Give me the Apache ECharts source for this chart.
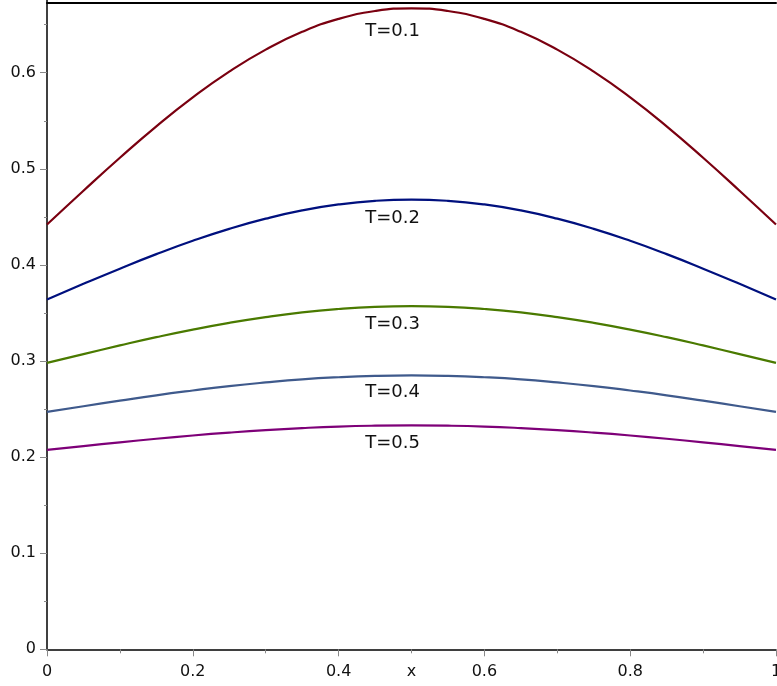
<!DOCTYPE html>
<html>
<head>
<meta charset="utf-8">
<script src="https://cdn.jsdelivr.net/npm/echarts@6/dist/echarts.min.js"></script>
<style>
html,body{margin:0;padding:0;background:#fff;}
#chart{width:777px;height:686px;}
</style>
</head>
<body>
<div id="chart"></div>
<script>
// x positions
var xValues = [0, 0.05, 0.1, 0.15, 0.2, 0.25, 0.3, 0.35, 0.4, 0.45, 0.5,
               0.55, 0.6, 0.65, 0.7, 0.75, 0.8, 0.85, 0.9, 0.95, 1];
// curve values
var seriesT01 = [0.4420, 0.4772, 0.5115, 0.5442, 0.5743, 0.6011, 0.6240, 0.6425, 0.6560, 0.6642, 0.6670,
                 0.6642, 0.6560, 0.6425, 0.6240, 0.6011, 0.5743, 0.5442, 0.5115, 0.4772, 0.4420];
var seriesT02 = [0.3640, 0.3803, 0.3961, 0.4112, 0.4251, 0.4375, 0.4481, 0.4567, 0.4629, 0.4667, 0.4680,
                 0.4667, 0.4629, 0.4567, 0.4481, 0.4375, 0.4251, 0.4112, 0.3961, 0.3803, 0.3640];
var seriesT03 = [0.2980, 0.3072, 0.3162, 0.3248, 0.3327, 0.3397, 0.3457, 0.3506, 0.3541, 0.3563, 0.3570,
                 0.3563, 0.3541, 0.3506, 0.3457, 0.3397, 0.3327, 0.3248, 0.3162, 0.3072, 0.2980];
var seriesT04 = [0.2470, 0.2529, 0.2587, 0.2643, 0.2693, 0.2739, 0.2777, 0.2809, 0.2831, 0.2845, 0.2850,
                 0.2845, 0.2831, 0.2809, 0.2777, 0.2739, 0.2693, 0.2643, 0.2587, 0.2529, 0.2470];
var seriesT05 = [0.2075, 0.2115, 0.2154, 0.2191, 0.2225, 0.2255, 0.2281, 0.2302, 0.2318, 0.2327, 0.2330,
                 0.2327, 0.2318, 0.2302, 0.2281, 0.2255, 0.2225, 0.2191, 0.2154, 0.2115, 0.2075];
var seriesNames = ['T=0.1', 'T=0.2', 'T=0.3', 'T=0.4', 'T=0.5'];
var xTickLabels = ['0', '0.2', '0.4', '0.6', '0.8', '1'];
var yTickLabels = ['0', '0.1', '0.2', '0.3', '0.4', '0.5', '0.6'];

var allSeries = [seriesT01, seriesT02, seriesT03, seriesT04, seriesT05];
var colors = ['#7a0010', '#00107e', '#4a7a00', '#3f5a8c', '#7e0078'];
var labelDy = [23, 19, 18, 17, 18];
var FONT = 'DejaVu Sans';

function pairs(vals) {
  return xValues.map(function (x, i) { return [x, vals[i]]; });
}
function fmt(list) {
  return function (v) {
    for (var i = 0; i < list.length; i++) {
      if (Math.abs(parseFloat(list[i]) - v) < 1e-6) return list[i];
    }
    return '';
  };
}

var series = allSeries.map(function (vals, k) {
  var mid = Math.floor(vals.length / 2);
  return {
    name: seriesNames[k],
    type: 'line',
    smooth: true,
    showSymbol: false,
    silent: true,
    data: pairs(vals),
    lineStyle: { color: colors[k], width: 2.2 },
    itemStyle: { color: colors[k] },
    markPoint: {
      symbol: 'circle',
      symbolSize: 1,
      itemStyle: { color: 'rgba(0,0,0,0)' },
      silent: true,
      animation: false,
      label: {
        show: true,
        position: 'inside',
        offset: [-19, labelDy[k]],
        formatter: seriesNames[k],
        color: '#111',
        fontFamily: FONT,
        fontSize: 18
      },
      data: [{ coord: [xValues[mid], vals[mid]] }]
    }
  };
});

var chart = echarts.init(document.getElementById('chart'));
chart.setOption({
  animation: false,
  backgroundColor: '#fff',
  grid: { left: 47, right: 1, top: -23.4, bottom: 36.7, containLabel: false, outerBoundsMode: 'none' },
  xAxis: [{
    type: 'value',
    min: 0, max: 1, interval: 0.2,
    name: 'x',
    nameLocation: 'middle',
    nameGap: 15,
    nameMoveOverlap: false,
    nameTextStyle: { fontFamily: FONT, fontSize: 16, color: '#111', verticalAlign: 'top' },
    axisLine: { show: true, onZero: false, lineStyle: { color: '#000', width: 1.5 } },
    axisTick: { show: true, length: 7, lineStyle: { color: '#888', width: 1 } },
    minorTick: { show: true, splitNumber: 2, length: 4, lineStyle: { color: '#888', width: 1 } },
    splitLine: { show: false },
    axisLabel: { margin: 15, fontFamily: FONT, fontSize: 16, color: '#111', formatter: fmt(xTickLabels) }
  }, {
    type: 'value',
    position: 'top',
    offset: -26.4,
    min: 0, max: 1,
    axisLine: { show: true, onZero: false, lineStyle: { color: '#000', width: 2 } },
    axisTick: { show: false },
    axisLabel: { show: false },
    splitLine: { show: false }
  }],
  yAxis: {
    type: 'value',
    min: 0, max: 0.7, interval: 0.1,
    axisLine: { show: true, onZero: false, lineStyle: { color: '#000', width: 1.5 } },
    axisTick: { show: true, length: 7, lineStyle: { color: '#888', width: 1 } },
    minorTick: { show: true, splitNumber: 2, length: 3, lineStyle: { color: '#888', width: 1 } },
    splitLine: { show: false },
    axisLabel: { margin: 11, fontFamily: FONT, fontSize: 16, color: '#111', formatter: fmt(yTickLabels) }
  },
  series: series
});
</script>
</body>
</html>
